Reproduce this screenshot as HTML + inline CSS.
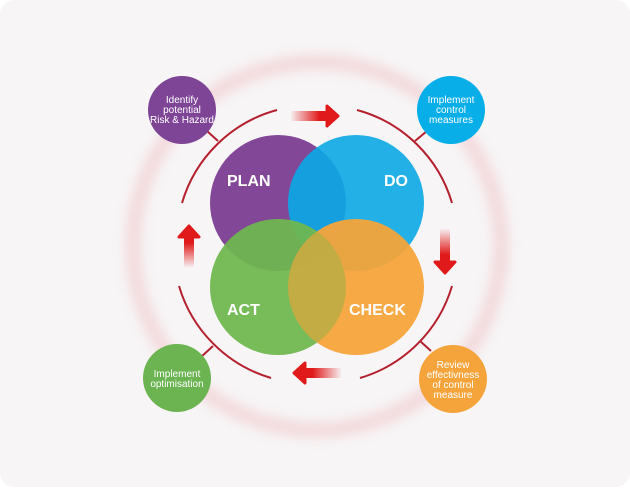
<!DOCTYPE html>
<html><head><style>
html,body{margin:0;padding:0;background:#fff;}
</style></head><body>
<svg width="630" height="487" viewBox="0 0 630 487" xmlns="http://www.w3.org/2000/svg" font-family="Liberation Sans, sans-serif">
<defs>
<filter id="bl" x="-20%" y="-20%" width="140%" height="140%"><feGaussianBlur stdDeviation="6"/></filter>
<linearGradient id="gr" x1="0" x2="1" y1="0" y2="0"><stop offset="0" stop-color="#e01a1a" stop-opacity="0"/><stop offset="0.7" stop-color="#e01a1a"/></linearGradient>
<linearGradient id="gd" x1="0" x2="0" y1="0" y2="1"><stop offset="0" stop-color="#e01a1a" stop-opacity="0"/><stop offset="0.7" stop-color="#e01a1a"/></linearGradient>
<linearGradient id="gl" x1="1" x2="0" y1="0" y2="0"><stop offset="0" stop-color="#e01a1a" stop-opacity="0"/><stop offset="0.7" stop-color="#e01a1a"/></linearGradient>
<linearGradient id="gu" x1="0" x2="0" y1="1" y2="0"><stop offset="0" stop-color="#e01a1a" stop-opacity="0"/><stop offset="0.7" stop-color="#e01a1a"/></linearGradient>
</defs>
<rect x="0" y="0" width="630" height="487" rx="14" fill="#f7f5f6"/>
<circle cx="317" cy="246" r="184" fill="none" stroke="#efc2c6" stroke-width="14" filter="url(#bl)" opacity="0.6"/>
<g fill="none" stroke="#b5202e" stroke-width="2">
<path d="M277 110 A136 136 0 0 0 182 203"/>
<path d="M357 110 A136 136 0 0 1 452 203"/>
<path d="M179 286 A136 136 0 0 0 271 378"/>
<path d="M360 378 A136 136 0 0 0 452 286"/>
<line x1="207" y1="131" x2="218" y2="141"/>
<line x1="427" y1="131" x2="415" y2="141"/>
<line x1="201" y1="357" x2="213" y2="346"/>
<line x1="431" y1="351" x2="420" y2="341"/>
</g>
<rect x="290" y="111" width="42" height="10" rx="3" fill="url(#gr)"/><path d="M327 106 L338 116 L327 126 Z" fill="#e01a1a" stroke="#e01a1a" stroke-width="3" stroke-linejoin="round"/>
<rect x="440" y="228" width="10" height="38" rx="3" fill="url(#gd)"/><path d="M435 262 L445 273 L455 262 Z" fill="#e01a1a" stroke="#e01a1a" stroke-width="3" stroke-linejoin="round"/>
<rect x="300" y="368" width="42" height="10" rx="3" fill="url(#gl)"/><path d="M305 363 L294 373 L305 383 Z" fill="#e01a1a" stroke="#e01a1a" stroke-width="3" stroke-linejoin="round"/>
<rect x="184" y="232" width="10" height="36" rx="3" fill="url(#gu)"/><path d="M179 237 L189 226 L199 237 Z" fill="#e01a1a" stroke="#e01a1a" stroke-width="3" stroke-linejoin="round"/>
<circle cx="278" cy="203" r="68" fill="#824797"/>
<circle cx="356" cy="203" r="68" fill="#0aa8e6" fill-opacity="0.9"/>
<circle cx="278" cy="287" r="68" fill="#6fb84f" fill-opacity="0.9"/>
<circle cx="356" cy="287" r="68" fill="#f6a43a" fill-opacity="0.95"/>
<circle cx="278" cy="287" r="68" fill="#6fb84f" fill-opacity="0.35"/>
<g fill="#fff" font-size="16" font-weight="bold">
<text x="227" y="186">PLAN</text>
<text x="384" y="186">DO</text>
<text x="227" y="315">ACT</text>
<text x="349" y="315">CHECK</text>
</g>
<circle cx="182" cy="110" r="34" fill="#7e4596"/>
<circle cx="451" cy="110" r="34" fill="#08aee8"/>
<circle cx="177" cy="378" r="34" fill="#6cb451"/>
<circle cx="453" cy="379" r="34" fill="#f5a43c"/>
<g fill="#fff" font-size="10" text-anchor="middle">
<text x="182" y="103">Identify</text><text x="182" y="113">potential</text><text x="182" y="123">Risk &amp; Hazard</text>
<text x="451" y="103">Implement</text><text x="451" y="113">control</text><text x="451" y="123">measures</text>
<text x="177" y="377">Implement</text><text x="177" y="387">optimisation</text>
<text x="453" y="368">Review</text><text x="453" y="378">effectivness</text><text x="453" y="388">of control</text><text x="453" y="398">measure</text>
</g>
</svg>
</body></html>
